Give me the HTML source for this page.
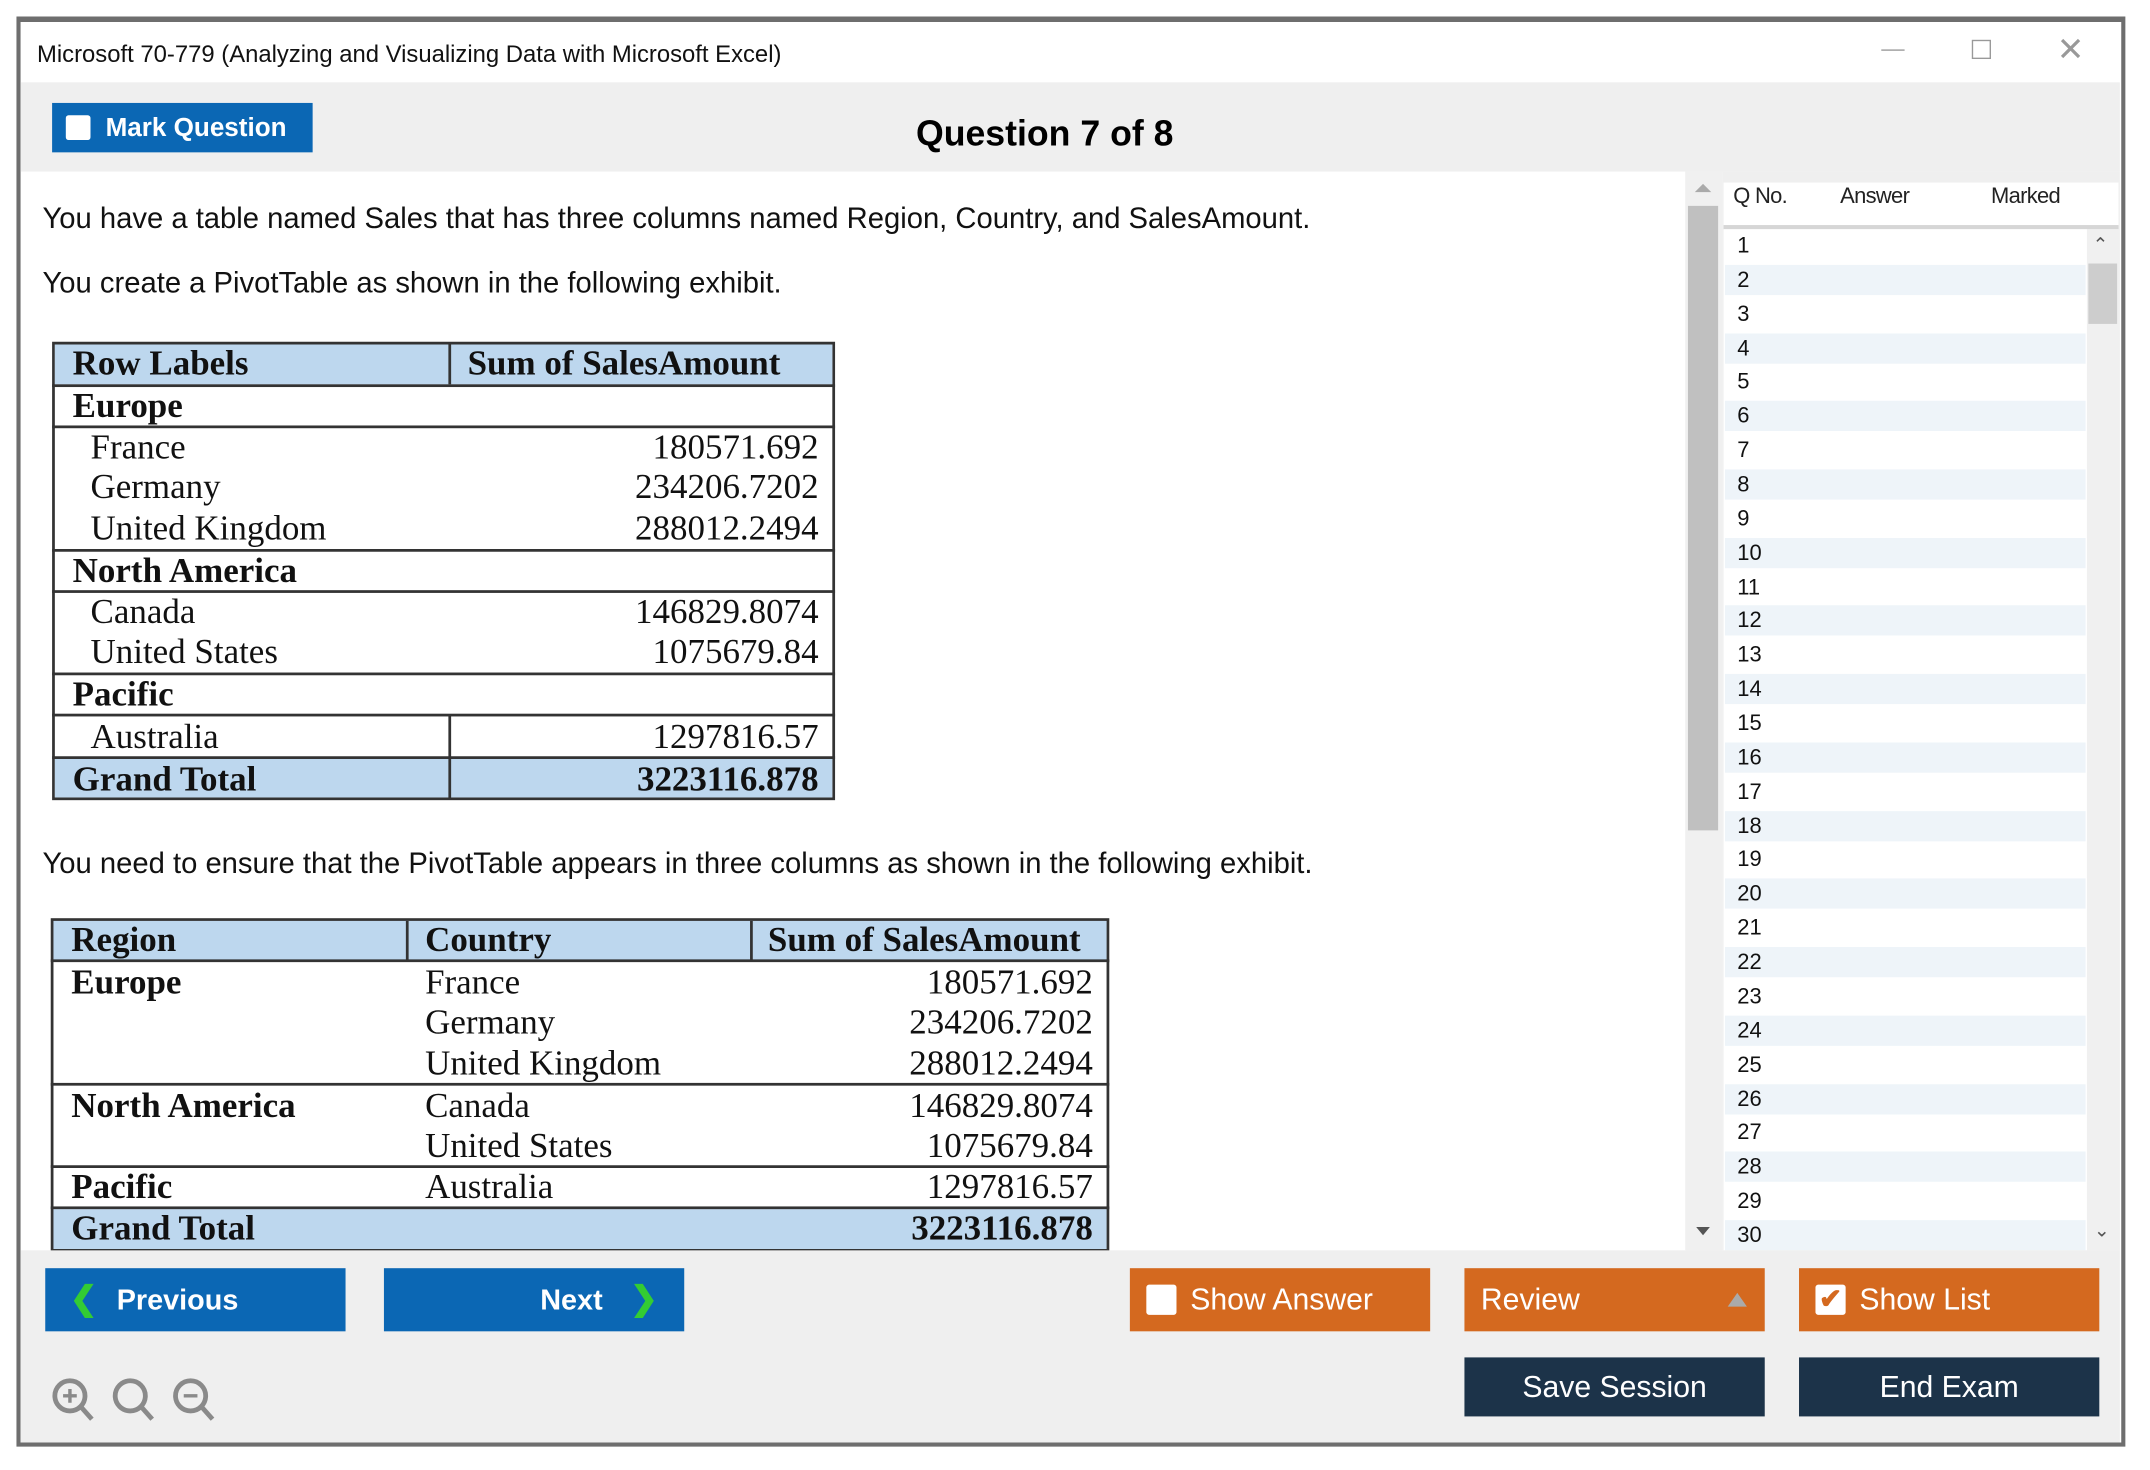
<!DOCTYPE html>
<html><head><meta charset="utf-8"><style>
*{margin:0;padding:0;box-sizing:border-box}
html,body{width:2150px;height:1470px;background:#fff;overflow:hidden}
#s{position:absolute;left:0;top:0;width:1562px;height:1068px;transform:scale(1.3712,1.3725);transform-origin:0 0;font-family:"Liberation Sans",sans-serif}
.a{position:absolute}
.sf{font-family:"Liberation Serif",serif;font-size:25.5px;color:#111;white-space:nowrap}
.b{font-weight:bold}
.btn{position:absolute;color:#fff;font-size:21px;font-weight:bold;line-height:46px;height:46px}
.q{position:absolute;left:1267px;font-size:16px;color:#111}
</style></head><body><div id="s">
<div class="a" style="left:12px;top:12px;width:1538px;height:1042px;border:3px solid #6e6e6e;border-top-width:4px;background:#fff"></div>
<div class="a" style="left:27px;top:29px;font-size:17.4px;color:#111">Microsoft 70-779 (Analyzing and Visualizing Data with Microsoft Excel)</div>
<div class="a" style="left:1372px;top:36px;width:17px;height:1px;background:#999"></div>
<div class="a" style="left:1438px;top:29px;width:14px;height:14px;border:1.5px solid #999"></div>
<div class="a" style="left:1500px;top:22px;font-size:24px;color:#999">✕</div>
<div class="a" style="left:15px;top:60px;width:1531px;height:65px;background:#efefef"></div>
<div class="a" style="left:38px;top:75px;width:190px;height:36px;background:#0b67b4"></div>
<div class="a" style="left:48px;top:84px;width:18px;height:18px;background:#fff;border-radius:2px"></div>
<div class="a" style="left:77px;top:83px;font-size:19px;font-weight:bold;color:#fff">Mark Question</div>
<div class="a" style="left:668px;top:82px;font-size:26px;font-weight:bold;color:#000">Question 7 of 8</div>
<div class="a" style="left:31px;top:147px;font-size:21.3px;color:#111">You have a table named Sales that has three columns named Region, Country, and SalesAmount.</div>
<div class="a" style="left:31px;top:194px;font-size:21.3px;color:#111">You create a PivotTable as shown in the following exhibit.</div>
<div class="a" style="left:31px;top:617px;font-size:21.3px;color:#111">You need to ensure that the PivotTable appears in three columns as shown in the following exhibit.</div>

<div class="a" style="left:38px;top:249px;width:571px;height:334px;border:2px solid #333"></div>
<div class="a" style="left:40px;top:251px;width:567px;height:29px;background:#bdd7ee"></div>
<div class="a" style="left:40px;top:553px;width:567px;height:28px;background:#bdd7ee"></div>
<div class="a" style="left:327px;top:251px;width:2px;height:29px;background:#333"></div>
<div class="a" style="left:327px;top:521px;width:2px;height:61px;background:#333"></div>
<div class="a" style="left:38px;top:280px;width:571px;height:2px;background:#333"></div>
<div class="a" style="left:38px;top:310px;width:571px;height:2px;background:#333"></div>
<div class="a" style="left:38px;top:400px;width:571px;height:2px;background:#333"></div>
<div class="a" style="left:38px;top:430px;width:571px;height:2px;background:#333"></div>
<div class="a" style="left:38px;top:490px;width:571px;height:2px;background:#333"></div>
<div class="a" style="left:38px;top:520px;width:571px;height:2px;background:#333"></div>
<div class="a" style="left:38px;top:551px;width:571px;height:2px;background:#333"></div>
<div class="a sf b" style="left:53px;top:250px">Row Labels</div>
<div class="a sf b" style="left:341px;top:250px">Sum of SalesAmount</div>
<div class="a sf b" style="left:53px;top:281px">Europe</div>
<div class="a sf" style="left:66px;top:311px">France</div>
<div class="a sf" style="left:66px;top:340px">Germany</div>
<div class="a sf" style="left:66px;top:370px">United Kingdom</div>
<div class="a sf b" style="left:53px;top:401px">North America</div>
<div class="a sf" style="left:66px;top:431px">Canada</div>
<div class="a sf" style="left:66px;top:460px">United States</div>
<div class="a sf b" style="left:53px;top:491px">Pacific</div>
<div class="a sf" style="left:66px;top:522px">Australia</div>
<div class="a sf b" style="left:53px;top:553px">Grand Total</div>
<div class="a sf" style="right:965px;top:311px">180571.692</div>
<div class="a sf" style="right:965px;top:340px">234206.7202</div>
<div class="a sf" style="right:965px;top:370px">288012.2494</div>
<div class="a sf" style="right:965px;top:431px">146829.8074</div>
<div class="a sf" style="right:965px;top:460px">1075679.84</div>
<div class="a sf" style="right:965px;top:522px">1297816.57</div>
<div class="a sf b" style="right:965px;top:553px">3223116.878</div>

<div class="a" style="left:37px;top:669px;width:772px;height:243px;border:2px solid #333"></div>
<div class="a" style="left:39px;top:671px;width:768px;height:29px;background:#bdd7ee"></div>
<div class="a" style="left:39px;top:881px;width:768px;height:29px;background:#bdd7ee"></div>
<div class="a" style="left:296px;top:671px;width:2px;height:29px;background:#333"></div>
<div class="a" style="left:547px;top:671px;width:2px;height:29px;background:#333"></div>
<div class="a" style="left:37px;top:699px;width:772px;height:2px;background:#333"></div>
<div class="a" style="left:37px;top:789px;width:772px;height:2px;background:#333"></div>
<div class="a" style="left:37px;top:849px;width:772px;height:2px;background:#333"></div>
<div class="a" style="left:37px;top:879px;width:772px;height:2px;background:#333"></div>
<div class="a sf b" style="left:52px;top:670px">Region</div>
<div class="a sf b" style="left:310px;top:670px">Country</div>
<div class="a sf b" style="left:560px;top:670px">Sum of SalesAmount</div>
<div class="a sf b" style="left:52px;top:701px">Europe</div>
<div class="a sf b" style="left:52px;top:791px">North America</div>
<div class="a sf b" style="left:52px;top:850px">Pacific</div>
<div class="a sf b" style="left:52px;top:880px">Grand Total</div>
<div class="a sf" style="left:310px;top:701px">France</div>
<div class="a sf" style="left:310px;top:730px">Germany</div>
<div class="a sf" style="left:310px;top:760px">United Kingdom</div>
<div class="a sf" style="left:310px;top:791px">Canada</div>
<div class="a sf" style="left:310px;top:820px">United States</div>
<div class="a sf" style="left:310px;top:850px">Australia</div>
<div class="a sf" style="right:765px;top:701px">180571.692</div>
<div class="a sf" style="right:765px;top:730px">234206.7202</div>
<div class="a sf" style="right:765px;top:760px">288012.2494</div>
<div class="a sf" style="right:765px;top:791px">146829.8074</div>
<div class="a sf" style="right:765px;top:820px">1075679.84</div>
<div class="a sf" style="right:765px;top:850px">1297816.57</div>
<div class="a sf b" style="right:765px;top:880px">3223116.878</div>

<div class="a" style="left:1229px;top:125px;width:27px;height:786px;background:#f0f0f0"></div>
<div class="a" style="left:1231px;top:150px;width:22px;height:455px;background:#c0c0c0"></div>
<div class="a" style="left:1236px;top:134px;width:0;height:0;border-left:6px solid transparent;border-right:6px solid transparent;border-bottom:6px solid #aaa"></div>
<div class="a" style="left:1237px;top:894px;width:0;height:0;border-left:5px solid transparent;border-right:5px solid transparent;border-top:6px solid #555"></div>

<div class="a" style="left:1256px;top:125px;width:290px;height:786px;background:#efefef"></div>
<div class="a" style="left:1257px;top:133px;width:288px;height:31px;background:#fff"></div>
<div class="a" style="left:1257px;top:164px;width:288px;height:3px;background:#d6d6d6"></div>
<div class="a" style="left:1264px;top:135px;font-size:16px;color:#222;letter-spacing:-0.5px">Q No.</div>
<div class="a" style="left:1342px;top:135px;font-size:16px;color:#222;letter-spacing:-0.5px">Answer</div>
<div class="a" style="left:1452px;top:135px;font-size:16px;color:#222;letter-spacing:-0.5px">Marked</div>
<div class="a" style="left:1257px;top:167px;width:265px;height:744px;background:#fff"></div>
<div class="a" style="left:1522px;top:167px;width:23px;height:744px;background:#f0f0f0"></div>
<div class="a" style="left:1523px;top:192px;width:21px;height:44px;background:#cdcdcd"></div>
<div class="a" style="left:1526px;top:170px;font-size:14px;color:#555">&#8963;</div>
<div class="a" style="left:1527px;top:888px;font-size:14px;color:#555">&#8964;</div>
<div id="rows"></div>
<script>
var h='';for(var i=1;i<=30;i++){var t=168+(i-1)*24.86;if(i%2==0)h+='<div class="a" style="left:1258px;top:'+t+'px;width:263px;height:22px;background:#eef4f9"></div>';h+='<div class="q" style="top:'+(t+3)+'px">'+i+'</div>';}
document.getElementById('rows').outerHTML=h;
</script>

<div class="a" style="left:15px;top:911px;width:1531px;height:140px;background:#efefef"></div>
<div class="btn" style="left:33px;top:924px;width:219px;background:#0b67b4"><span style="color:#3c3;margin-left:18px;font-size:24px">&#10094;</span><span style="margin-left:14px">Previous</span></div>
<div class="btn" style="left:280px;top:924px;width:219px;background:#0b67b4"><span style="margin-left:114px">Next</span><span style="color:#3c3;margin-left:20px;font-size:24px">&#10095;</span></div>
<div class="btn" style="left:824px;top:924px;width:219px;background:#d4691f;font-weight:normal;font-size:22px"><span class="a" style="left:12px;top:12px;width:22px;height:22px;background:#fff;border-radius:2px"></span><span style="margin-left:44px">Show Answer</span></div>
<div class="btn" style="left:1068px;top:924px;width:219px;background:#d4691f;font-weight:normal;font-size:22px"><span style="margin-left:12px">Review</span><span class="a" style="left:192px;top:18px;width:0;height:0;border-left:7px solid transparent;border-right:7px solid transparent;border-bottom:10px solid #aaa"></span></div>
<div class="btn" style="left:1312px;top:924px;width:219px;background:#d4691f;font-weight:normal;font-size:22px"><span class="a" style="left:12px;top:12px;width:22px;height:22px;background:#fff;border-radius:2px;color:#d4691f;font-size:20px;line-height:22px;text-align:center;font-weight:bold">✔</span><span style="margin-left:44px">Show List</span></div>
<div class="btn" style="left:1068px;top:989px;width:219px;height:43px;line-height:43px;background:#1c3349;font-weight:normal;font-size:22px;text-align:center">Save Session</div>
<div class="btn" style="left:1312px;top:989px;width:219px;height:43px;line-height:43px;background:#1c3349;font-weight:normal;font-size:22px;text-align:center">End Exam</div>
<svg class="a" style="left:36px;top:1002px" width="130" height="36" viewBox="0 0 130 36" fill="none" stroke="#8a8a8a" stroke-width="3.5">
<circle cx="15" cy="15" r="11"/><line x1="23" y1="23" x2="31" y2="32"/><line x1="10" y1="15" x2="20" y2="15" stroke-width="2.5"/><line x1="15" y1="10" x2="15" y2="20" stroke-width="2.5"/>
<circle cx="59" cy="15" r="11"/><line x1="67" y1="23" x2="75" y2="32"/>
<circle cx="103" cy="15" r="11"/><line x1="111" y1="23" x2="119" y2="32"/><line x1="98" y1="15" x2="108" y2="15" stroke-width="2.5"/>
</svg>
</div></body></html>
